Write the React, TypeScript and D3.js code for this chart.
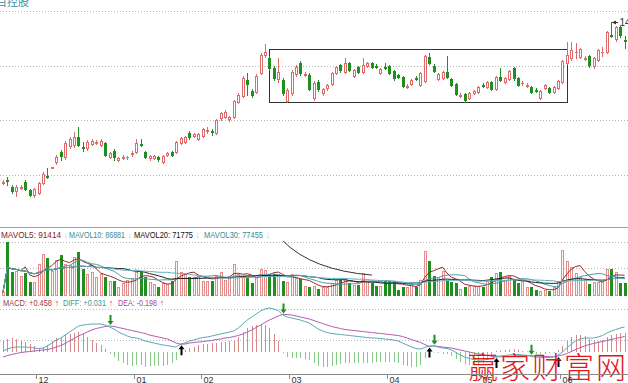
import React, { useEffect } from "react";
import * as d3 from "d3";

const W = 628;
const H = 383;

const openP = [7.60,7.70,7.42,7.26,7.40,7.62,7.30,7.10,7.18,7.58,
7.86,8.20,8.42,8.82,8.62,9.06,9.10,9.42,9.04,8.98,
9.14,9.20,9.10,9.18,8.62,8.86,8.50,8.60,8.61,8.74,
8.82,9.16,8.82,8.58,8.58,8.62,8.42,8.70,8.82,8.82,
9.18,9.22,9.58,9.46,9.34,9.46,9.68,9.66,9.58,10.18,
10.22,10.14,10.22,10.82,11.06,11.70,11.26,11.22,11.98,12.70,
12.58,12.18,11.74,11.70,10.86,11.18,11.94,12.38,11.92,11.90,
10.98,11.62,11.18,11.38,11.54,11.98,12.30,12.02,12.38,11.86,
12.22,12.02,12.26,12.38,12.28,11.98,12.24,12.26,12.06,11.88,
11.82,11.44,11.54,11.80,11.50,11.66,12.62,12.26,11.74,11.78,
12.02,11.74,11.54,11.08,11.14,10.98,11.18,11.22,11.52,11.42,
11.62,11.34,11.82,11.62,11.74,12.18,11.78,11.56,11.48,11.42,
11.32,10.98,11.38,11.38,11.22,11.38,11.62,12.38,12.58,12.80,
12.62,12.56,12.66,12.26,12.50,12.80,12.82,13.52,13.34,13.82,
13.32];
const closeP = [7.64,7.67,7.26,7.42,7.42,7.34,7.10,7.34,7.58,7.94,
7.82,8.22,8.62,8.66,9.18,9.34,9.42,9.10,9.00,9.22,
9.26,9.24,9.26,8.70,8.78,8.62,8.58,8.62,8.62,8.78,
9.18,9.12,8.62,8.66,8.66,8.54,8.66,8.78,8.70,9.22,
9.38,9.42,9.42,9.54,9.54,9.74,9.70,9.63,10.10,10.38,
10.42,10.22,10.86,11.10,11.78,11.54,11.10,11.86,12.70,12.82,
12.18,11.78,12.02,11.18,11.30,12.02,12.22,11.98,11.96,11.34,
11.58,11.34,11.34,11.50,11.98,12.22,12.10,12.38,12.10,12.10,
12.02,12.30,12.38,12.22,12.24,12.14,12.20,11.98,11.78,11.84,
11.46,11.48,11.70,11.76,11.98,12.66,12.38,12.06,11.94,12.02,
11.82,11.50,11.14,11.12,10.90,11.18,11.26,11.42,11.48,11.62,
11.34,11.82,11.70,11.78,12.06,11.78,11.50,11.60,11.52,11.22,
11.28,11.26,11.50,11.22,11.42,11.66,12.46,12.70,12.90,12.84,
12.94,12.60,12.30,12.58,12.90,12.84,13.62,13.46,13.82,13.50,
13.28];
const highP = [7.70,7.82,7.50,7.50,7.50,7.70,7.34,7.38,7.62,8.02,
8.18,8.24,8.70,8.90,9.26,9.42,9.62,9.82,9.22,9.30,
9.34,9.30,9.34,9.22,8.82,8.94,8.62,8.70,8.68,8.86,
9.34,9.34,8.86,8.70,8.70,8.66,8.70,8.82,8.86,9.26,
9.42,9.46,9.66,9.58,9.58,9.78,9.82,9.74,10.14,10.42,
10.50,10.26,10.90,11.18,11.86,11.98,11.34,11.94,12.78,13.14,
12.66,12.26,12.58,11.78,11.38,12.10,12.30,12.46,12.02,11.98,
11.66,11.70,11.38,11.54,12.02,12.26,12.34,12.58,12.42,12.14,
12.26,12.58,12.42,12.42,12.34,12.18,12.38,12.30,12.10,11.94,
11.86,11.54,11.74,11.86,12.02,12.70,12.78,12.34,11.98,12.06,
12.66,11.78,11.58,11.18,11.18,11.22,11.30,11.46,11.58,11.66,
11.66,11.86,12.18,11.82,12.10,12.22,11.82,11.66,11.58,11.46,
11.38,11.30,11.54,11.42,11.46,11.70,12.50,13.22,13.22,13.18,
12.98,12.66,12.70,12.62,12.94,13.02,13.66,14.02,13.86,13.86,
13.46];
const lowP = [7.54,7.50,7.18,7.06,7.34,7.30,7.06,7.02,7.14,7.54,
7.78,8.18,8.34,8.50,8.54,8.98,9.02,9.06,8.86,8.90,
9.10,9.14,9.06,8.66,8.58,8.50,8.46,8.54,8.56,8.66,
8.78,9.06,8.58,8.50,8.54,8.46,8.38,8.66,8.66,8.78,
9.14,9.18,9.34,9.42,9.30,9.42,9.58,9.50,9.54,10.10,
10.18,10.06,10.18,10.78,11.02,11.10,11.02,11.18,11.94,12.62,
12.10,11.70,11.62,11.10,10.82,11.10,11.86,11.90,11.86,11.30,
10.90,11.26,11.10,11.30,11.50,11.94,12.02,11.98,12.06,11.82,
11.98,11.98,12.22,12.18,12.18,11.94,12.14,11.94,11.70,11.78,
11.42,11.38,11.50,11.70,11.46,11.62,12.34,12.02,11.70,11.74,
11.78,11.46,11.10,11.02,10.82,10.94,11.14,11.18,11.42,11.38,
11.30,11.30,11.66,11.58,11.70,11.70,11.46,11.50,11.42,11.18,
11.22,10.94,11.34,11.18,11.18,11.34,11.58,12.34,12.50,12.58,
12.58,12.50,12.22,12.18,12.46,12.66,12.78,13.42,13.26,13.42,
12.98];
const volume = [15000,240000,105000,109500,90000,102000,60000,60000,142500,187500,
169500,112500,160500,184500,142500,139500,172500,195000,120000,97500,
105000,85500,97500,82500,67500,67500,37500,55500,70500,79500,
105000,109500,82500,60000,52500,37500,55500,52500,67500,154500,
105000,97500,85500,82500,90000,67500,67500,67500,90000,105000,
70500,85500,142500,97500,82500,82500,55500,82500,120000,115500,
97500,97500,97500,67500,60000,97500,79500,75000,45000,40500,
45000,30000,40500,40500,55500,70500,70500,75000,55500,48000,
48000,100500,67500,55500,45000,45000,64500,64500,64500,25500,
37500,40500,55500,40500,70500,202500,154500,90000,82500,109500,
67500,60000,55500,30000,40500,45000,45000,45000,40500,67500,
82500,100500,105000,70500,90000,75000,55500,67500,37500,37500,
25500,22500,25500,19500,37500,67500,205500,154500,127500,100500,
85500,75000,52500,60000,60000,60000,120000,120000,105000,55500,
55500];
const diffV = [0.02,0.06,0.09,0.10,0.10,0.10,0.09,0.08,0.07,0.08,
0.12,0.18,0.24,0.28,0.34,0.40,0.46,0.52,0.54,0.55,
0.56,0.56,0.56,0.54,0.50,0.46,0.40,0.36,0.32,0.29,
0.28,0.26,0.22,0.20,0.18,0.16,0.14,0.13,0.11,0.10,
0.16,0.18,0.22,0.24,0.27,0.29,0.30,0.32,0.34,0.36,
0.38,0.40,0.42,0.48,0.56,0.64,0.70,0.76,0.82,0.86,
0.88,0.86,0.83,0.74,0.70,0.68,0.66,0.64,0.61,0.58,
0.52,0.46,0.42,0.39,0.37,0.36,0.35,0.34,0.33,0.32,
0.31,0.30,0.29,0.28,0.28,0.27,0.26,0.25,0.24,0.22,
0.18,0.14,0.10,0.07,0.06,0.09,0.12,0.12,0.10,0.08,
0.07,0.04,-0.01,-0.06,-0.10,-0.13,-0.15,-0.16,-0.16,-0.15,
-0.13,-0.09,-0.08,-0.07,-0.06,-0.05,-0.05,-0.06,-0.065,-0.09,
-0.10,-0.11,-0.11,-0.11,-0.10,-0.06,0.00,0.08,0.16,0.22,
0.26,0.28,0.28,0.28,0.30,0.33,0.38,0.42,0.45,0.48,
0.50];
const deaV = [-0.10,-0.07,-0.05,-0.03,-0.01,0.00,0.01,0.02,0.03,0.04,
0.05,0.07,0.10,0.13,0.17,0.22,0.27,0.32,0.36,0.40,
0.44,0.47,0.49,0.51,0.52,0.51,0.49,0.47,0.45,0.43,
0.41,0.39,0.37,0.34,0.32,0.30,0.28,0.26,0.22,0.18,
0.155,0.16,0.18,0.19,0.20,0.21,0.22,0.23,0.25,0.26,
0.28,0.29,0.31,0.33,0.36,0.40,0.44,0.49,0.54,0.59,
0.64,0.68,0.72,0.75,0.75,0.74,0.72,0.70,0.68,0.66,
0.63,0.60,0.57,0.54,0.51,0.49,0.47,0.45,0.44,0.43,
0.42,0.41,0.40,0.39,0.38,0.37,0.36,0.35,0.34,0.33,
0.31,0.28,0.25,0.22,0.19,0.15,0.11,0.125,0.11,0.10,
0.09,0.08,0.06,0.04,0.02,0.00,-0.02,-0.04,-0.05,-0.07,
-0.08,-0.10,-0.095,-0.09,-0.085,-0.08,-0.075,-0.07,-0.07,-0.075,
-0.08,-0.085,-0.09,-0.095,-0.095,-0.08,-0.06,-0.03,0.01,0.05,
0.09,0.12,0.15,0.17,0.19,0.21,0.23,0.25,0.27,0.29,
0.31];

const monthTickIdx = [8, 30, 45, 65, 87, 108, 126];
const monthLabels = ["12", "01", "02", "03", "04", "05", "06"];
const priceGrid = [14.46, 12.28, 10.1, 7.92];
const volGrid = [240000, 123000];
const macdGrid = [0.86, 0.24];
const maPeriods = [5, 10, 20, 30];
const maColors = ["#9a2b2b", "#4e9ea6", "#222222", "#62b2c2"];
const volLegend = [
  { t: "MAVOL5: 91414", x: 1, w: 60, c: "#8b1a1a", ax: 64 },
  { t: "MAVOL10: 86881", x: 69, w: 56, c: "#3a8a92", ax: 128 },
  { t: "MAVOL20: 71775", x: 134, w: 59, c: "#111111", ax: 196 },
  { t: "MAVOL30: 77455", x: 204, w: 59, c: "#3a8a92", ax: 266 },
];
const macdLegend = [
  { t: "MACD: +0.458", x: 3, w: 49, c: "#a33a3a", ax: 55 },
  { t: "DIFF: +0.031", x: 63, w: 43, c: "#3a9a9a", ax: 109 },
  { t: "DEA: -0.198", x: 118, w: 39, c: "#a04a8a", ax: 160 },
];
const boxAnno = { i0: 60, i1: 127, top: 12.94, bottom: 10.82 };
const arcAnno: [number, number][] = [[63.1, 245000], [69.6, 114000], [83.1, 92000]];

const RED = "#e06a6a";
const GREEN = "#1f8f1f";

export default function App() {
  useEffect(() => {
    document.body.style.margin = "0";
  }, []);

  const n = closeP.length;
  const x = d3.scaleLinear().domain([0, 140]).range([3, 624.6]);
  const step = x(1) - x(0);
  const yP = d3.scaleLinear().domain([14.9, 5.9]).range([0, 225]);
  const yV = d3.scaleLinear().domain([0, 250000]).range([295.5, 240]);
  const yM = d3.scaleLinear().domain([0, 1]).range([352, 302]);

  const candles = d3.range(n).map((i) => {
    const o = openP[i], c = closeP[i];
    const up = c >= o;
    const px = Math.round(x(i));
    const yT = Math.round(yP(Math.max(o, c)));
    const yB = Math.round(yP(Math.min(o, c)));
    const yH = Math.round(yP(highP[i]));
    const yL = Math.round(yP(lowP[i]));
    const els: JSX.Element[] = [];
    const col = up ? RED : GREEN;
    if (yB - yT < 1) {
      els.push(<line key="w" x1={px + 0.5} x2={px + 0.5} y1={yH} y2={yL + 1} stroke={col} />);
      els.push(<line key="b" x1={px - 1} x2={px + 2} y1={yT + 0.5} y2={yT + 0.5} stroke={col} />);
    } else if (up) {
      els.push(<line key="w1" x1={px + 0.5} x2={px + 0.5} y1={yH} y2={yT} stroke={col} />);
      els.push(<line key="w2" x1={px + 0.5} x2={px + 0.5} y1={yB} y2={yL + 1} stroke={col} />);
      els.push(<rect key="b" x={px - 0.5} y={yT + 0.5} width={2} height={yB - yT} fill="#fff" stroke={col} />);
    } else {
      els.push(<line key="w" x1={px + 0.5} x2={px + 0.5} y1={yH} y2={yL + 1} stroke={col} />);
      els.push(<rect key="b" x={px - 1} y={yT} width={3} height={yB - yT + 1} fill={col} />);
    }
    return <g key={i}>{els}</g>;
  });

  const vBase = yV(0);
  const volBars = d3.range(n).map((i) => {
    const up = closeP[i] >= openP[i];
    const px = Math.round(x(i));
    const top = Math.round(yV(volume[i]));
    if (up) {
      return <rect key={i} x={px - 0.5} y={top + 0.5} width={2} height={Math.max(1, Math.round(vBase) - top - 1)} fill="#fff4f4" stroke="#e48c8c" />;
    }
    return <rect key={i} x={px - 1} y={top} width={3} height={Math.round(vBase) - top} fill={GREEN} />;
  });

  const maLines = maPeriods.map((p, k) => {
    const vals = d3.range(n).map((i) => d3.mean(volume.slice(Math.max(0, i - p + 1), i + 1)) as number);
    const line = d3.line<number>().x((_, i) => x(i)).y((v) => yV(v));
    return <path key={p} d={line(vals) || ""} fill="none" stroke={maColors[k]} strokeWidth={1} />;
  });

  const hist = d3.range(n).map((i) => {
    const h = 2 * (diffV[i] - deaV[i]);
    const px = Math.round(x(i)) + 0.5;
    return <line key={i} x1={px} x2={px} y1={yM(0)} y2={yM(h)} stroke={h >= 0 ? "#d88888" : "#86c886"} />;
  });

  const lineM = d3.line<number>().x((_, i) => x(i)).y((v) => yM(v));

  const arrows: JSX.Element[] = [];
  for (let i = 1; i < n; i++) {
    const a = diffV[i - 1] - deaV[i - 1];
    const b = diffV[i] - deaV[i];
    const cx = Math.round(x(i)) + 0.5;
    if (a < 0 && b > 0) {
      const ty = yM(Math.min(diffV[i], deaV[i])) + 1;
      arrows.push(<path key={"g" + i} d={`M${cx},${ty} L${cx - 3},${ty + 4} L${cx - 1},${ty + 4} L${cx - 1},${ty + 10} L${cx + 1},${ty + 10} L${cx + 1},${ty + 4} L${cx + 3},${ty + 4} Z`} fill="#000" />);
    } else if (a > 0 && b < 0) {
      const ty = yM(Math.max(diffV[i], deaV[i])) - 1;
      arrows.push(<path key={"d" + i} d={`M${cx},${ty} L${cx - 3},${ty - 4} L${cx - 1},${ty - 4} L${cx - 1},${ty - 10} L${cx + 1},${ty - 10} L${cx + 1},${ty - 4} L${cx + 3},${ty - 4} Z`} fill="#1f8f1f" />);
    }
  }

  const maxI = highP.indexOf(Math.max(...highP));
  const maxY = Math.round(yP(highP[maxI])) + 0.5;
  const maxX = Math.round(x(maxI)) + 1;

  const bx0 = Math.round(x(boxAnno.i0)) + 0.5;
  const bx1 = Math.round(x(boxAnno.i1)) + 0.5;
  const by0 = Math.round(yP(boxAnno.top)) + 0.5;
  const by1 = Math.round(yP(boxAnno.bottom)) + 0.5;

  const arcD = `M${x(arcAnno[0][0])},${yV(arcAnno[0][1])} Q${x(arcAnno[1][0])},${yV(arcAnno[1][1])} ${x(arcAnno[2][0])},${yV(arcAnno[2][1])}`;

  const font = "'Liberation Sans', Arial, sans-serif";

  return (
    <svg width={W} height={H} style={{ position: "absolute", left: 0, top: 0, display: "block", background: "#fff" }} fontFamily={font}>
      <rect x={0} y={0} width={W} height={H} fill="#fff" />
      <text x={-4} y={6} fontSize={11} fill="#3a8fa0" fontFamily="'Noto Sans CJK SC', sans-serif">百控股</text>
      {priceGrid.map((p) => (
        <line key={p} x1={0} x2={W} y1={Math.round(yP(p)) + 0.5} y2={Math.round(yP(p)) + 0.5} stroke="#b4b4b4" strokeDasharray="1 2" />
      ))}
      <rect x={bx0} y={by0} width={bx1 - bx0} height={by1 - by0} fill="none" stroke="#333" />
      {candles}
      <line x1={maxX} x2={618} y1={maxY} y2={maxY} stroke="#333" />
      <path d={`M${maxX},${maxY} l4,-2 l0,4 Z`} fill="#333" />
      <text x={619.5} y={25.5} fontSize={10} fill="#333">{highP[maxI].toFixed(2)}</text>
      <line x1={0} x2={W} y1={227.5} y2={227.5} stroke="#a0a0a0" />

      {volLegend.map((l) => (
        <g key={l.t}>
          <text x={l.x} y={237.5} fontSize={9} fill={l.c} textLength={l.w} lengthAdjust="spacingAndGlyphs">{l.t}</text>
          <text x={l.ax} y={237.5} fontSize={9} fill="#74c8dc" textLength={3.5} lengthAdjust="spacingAndGlyphs">↓</text>
        </g>
      ))}
      {volGrid.map((v) => (
        <line key={v} x1={0} x2={W} y1={Math.round(yV(v)) + 0.5} y2={Math.round(yV(v)) + 0.5} stroke="#b4b4b4" strokeDasharray="1 2" />
      ))}
      {volBars}
      {maLines}
      <path d={arcD} fill="none" stroke="#333" strokeWidth={1} />

      {macdLegend.map((l) => (
        <g key={l.t}>
          <text x={l.x} y={305.5} fontSize={9} fill={l.c} textLength={l.w} lengthAdjust="spacingAndGlyphs">{l.t}</text>
          <text x={l.ax} y={305.5} fontSize={9} fill="#e02020" textLength={4} lengthAdjust="spacingAndGlyphs">↑</text>
        </g>
      ))}
      {macdGrid.map((v) => (
        <line key={v} x1={0} x2={W} y1={Math.round(yM(v)) + 0.5} y2={Math.round(yM(v)) + 0.5} stroke="#b4b4b4" strokeDasharray="1 2" />
      ))}
      {hist}
      <path d={lineM(deaV) || ""} fill="none" stroke="#b25cb2" />
      <path d={lineM(diffV) || ""} fill="none" stroke="#5aaab4" />
      {arrows}

      <text x={468} y={378} fontSize={30} fill="#e41616" letterSpacing={2} fontFamily="'Noto Sans CJK SC', sans-serif" fontWeight={300}>赢家财富网</text>

      <line x1={0} x2={W} y1={374.5} y2={374.5} stroke="#8a8a8a" />
      {monthTickIdx.map((idx, k) => {
        const tx = Math.round(x(idx) - step / 2) + 0.5;
        return (
          <g key={idx}>
            <line x1={tx} x2={tx} y1={374.5} y2={379} stroke="#8a8a8a" />
            <text x={tx + 2} y={383} fontSize={9} fill="#333">{monthLabels[k]}</text>
          </g>
        );
      })}
    </svg>
  );
}
